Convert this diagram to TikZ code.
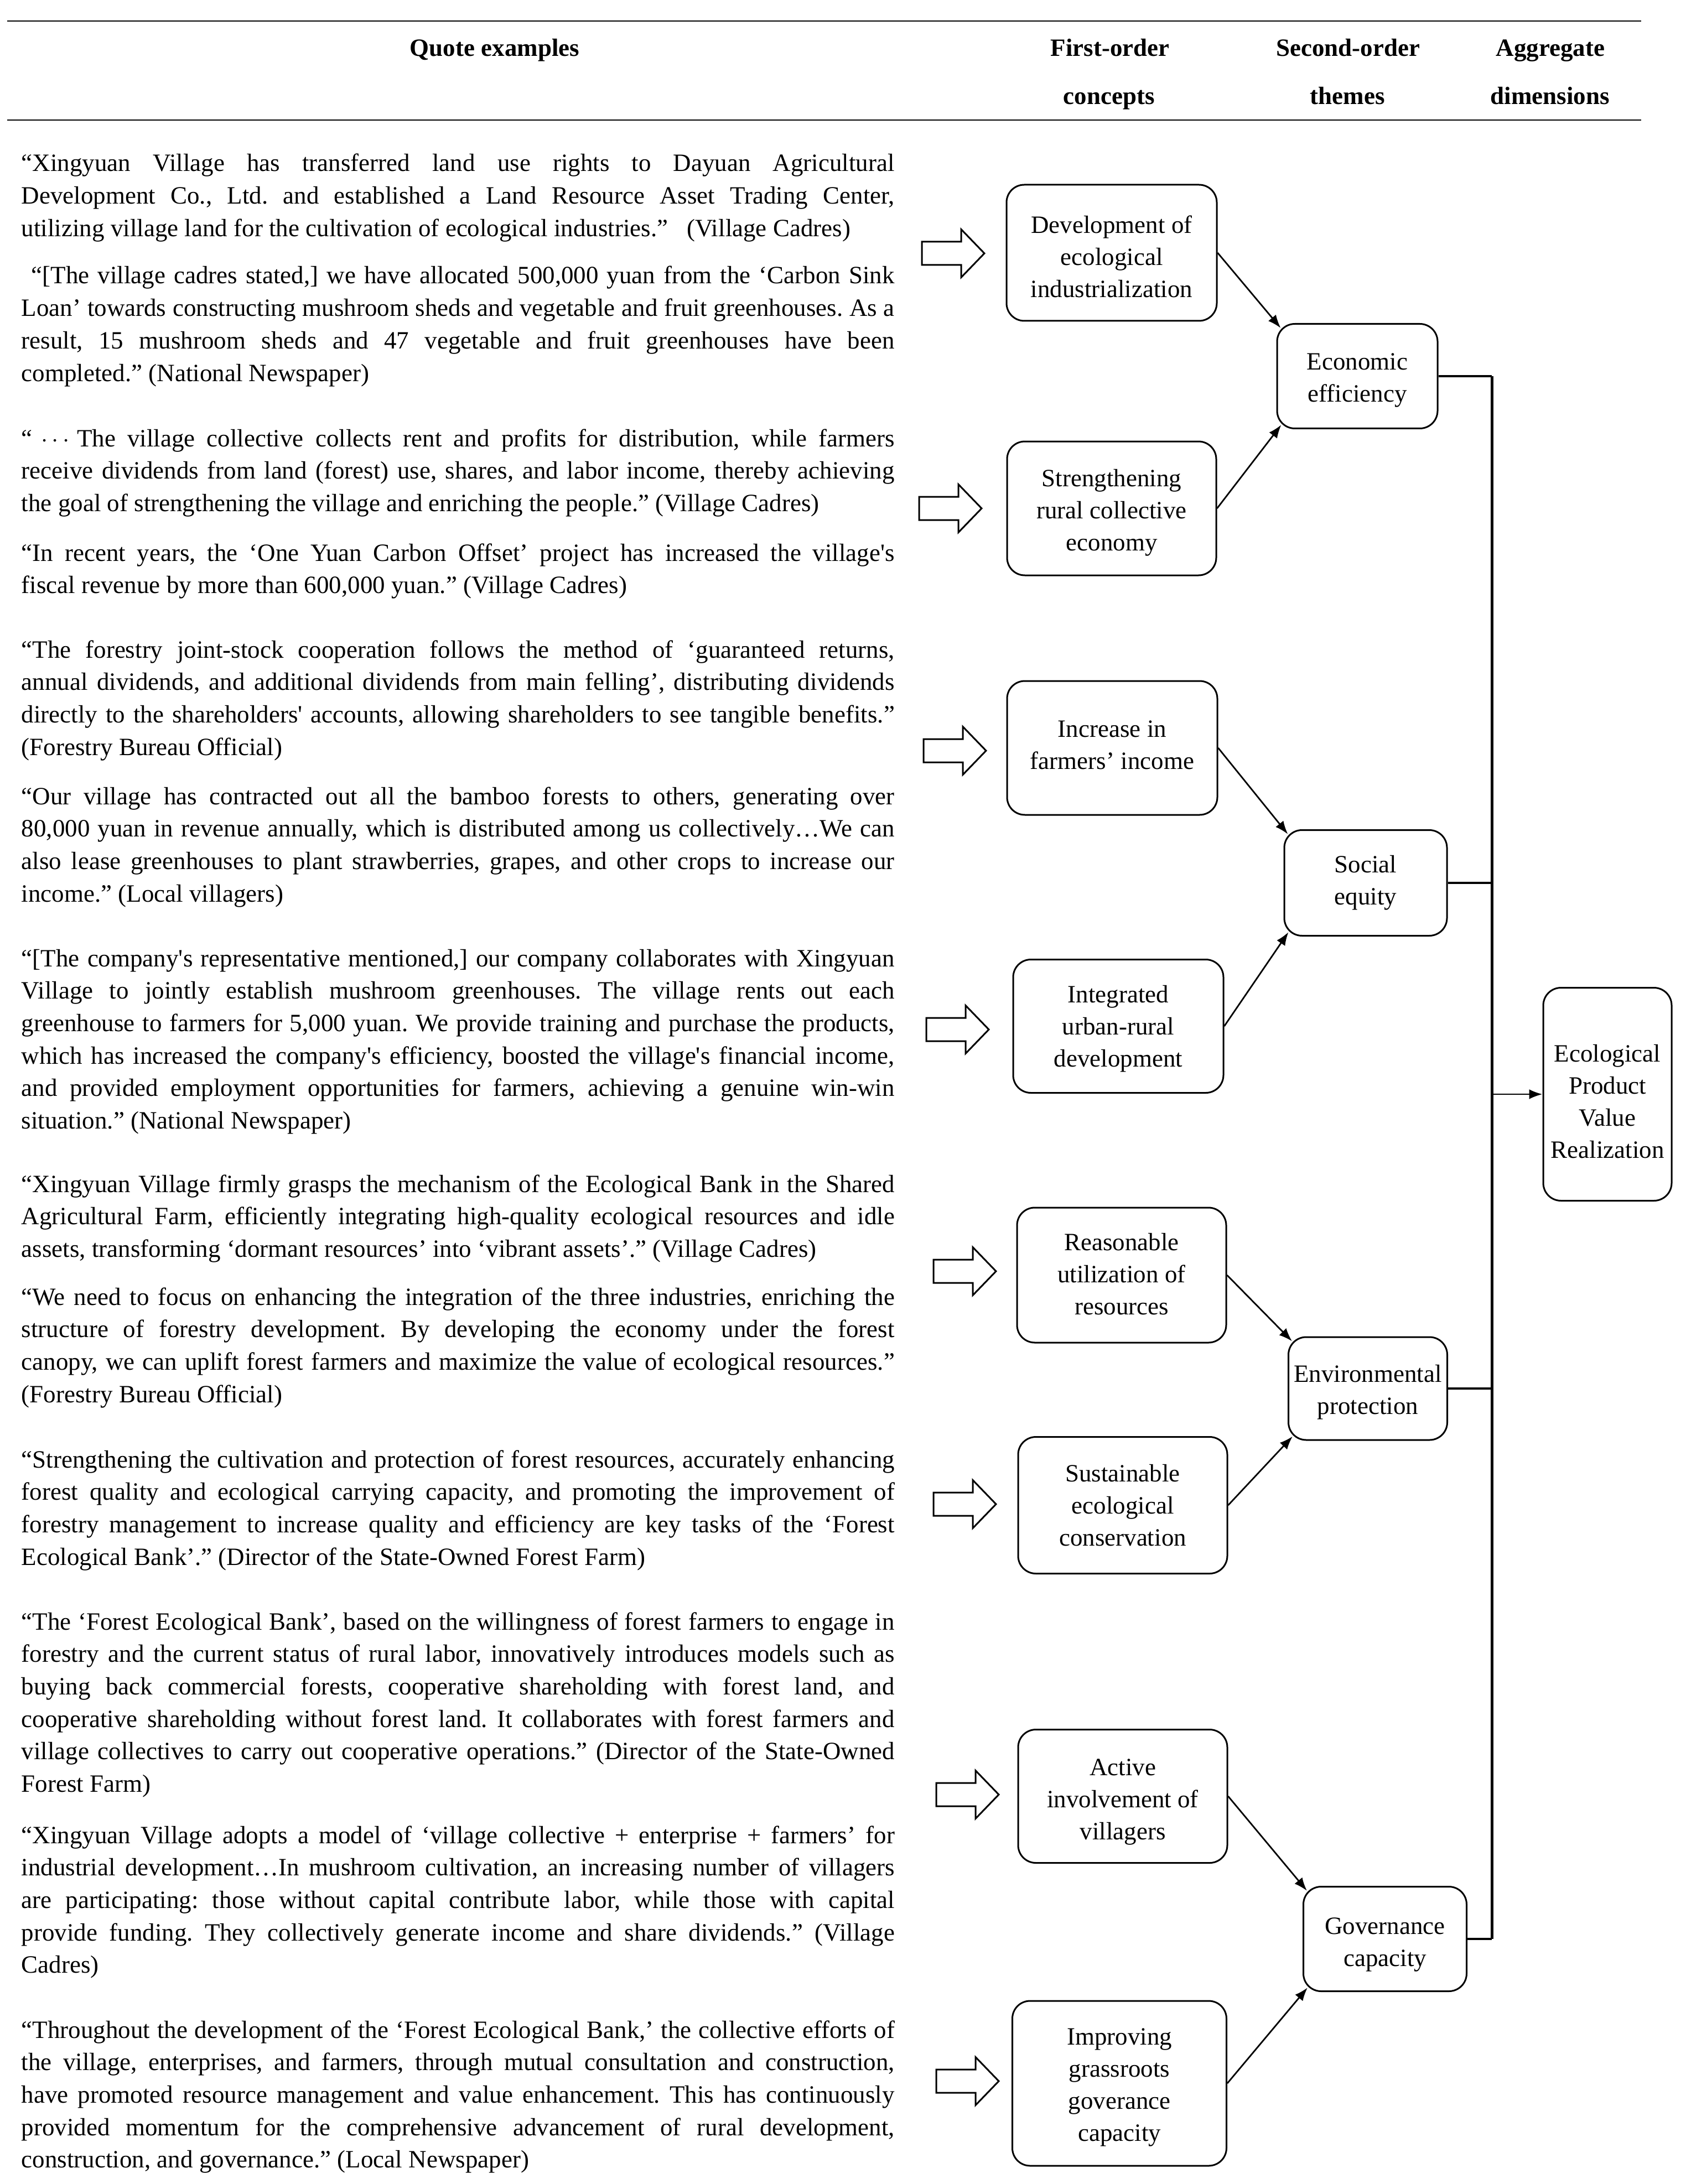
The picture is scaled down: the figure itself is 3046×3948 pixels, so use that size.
\documentclass[tikz,border=0pt]{standalone}
\usepackage{fontspec}
\newfontfamily\qfont{Liberation Serif}
\usetikzlibrary{arrows.meta,calc}
\newcommand\QL[1]{\hbox to 394.5pt{\spaceskip=0.25em plus 0.6em minus 0.1em\relax #1}}
\newcommand\QE[1]{\hbox{#1}}
\newcommand\cbx[7]{%
  \node[cbox={#4}{#5}] (#1) at (#2,#3) {};
  \node[ctext] (#1t) at ($(#1.center)+(0,#6)$) {#7};}
\frenchspacing
\begin{document}
\begin{tikzpicture}[x=0.25pt,y=-0.25pt,
  quote/.style={anchor=base west, inner sep=0pt, font=\qfont\fontsize{11.25}{14.675}\selectfont},
  hdr/.style={anchor=base, inner sep=0pt, font=\qfont\bfseries\fontsize{11.25}{14}\selectfont},
  cbox/.style 2 args={draw, line width=0.75pt, rounded corners=8pt, inner sep=0pt, minimum width=#1*0.25pt, minimum height=#2*0.25pt},
  ctext/.style={align=center, inner sep=0pt, font=\qfont\fontsize{11.25}{14.5}\selectfont},
  conn/.style={line width=0.7pt, -{Latex[length=6pt,width=4.5pt]}},
  hline/.style={line width=0.85pt},
  busline/.style={line width=1.25pt},
  rule/.style={line width=0.7pt},
  blockarr/.pic={\draw[line width=0.75pt, line join=miter] (0,-21) -- (71,-21) -- (71,-43.5) -- (113,0) -- (71,43.5) -- (71,21) -- (0,21) -- cycle;}
]
\useasboundingbox (0,0) rectangle (3046,3948);

% header
\draw[rule] (13,38) -- (2966,38);
\draw[rule] (13,217) -- (2966,217);
\node[hdr] (hq) at (894,102) {Quote examples};
\node[hdr] (h1a) at (2006,102) {First-order};
\node[hdr] (h1b) at (2004,189) {concepts};
\node[hdr] (h2a) at (2436,102) {Second-order};
\node[hdr] (h2b) at (2435,189) {themes};
\node[hdr] (h3a) at (2802,102) {Aggregate};
\node[hdr] (h3b) at (2801,189) {dimensions};

% quotes
\node[quote] (q1) at (38,310) {\vtop{%
\QL{“Xingyuan Village has transferred land use rights to Dayuan Agricultural}
\QL{Development Co., Ltd. and established a Land Resource Asset Trading Center,}
\QE{utilizing village land for the cultivation of ecological industries.”\hspace{0.5em} (Village Cadres)}}};

\node[quote] (q2) at (38,513) {\vtop{%
\QL{\hspace*{0.4em}“[The village cadres stated,] we have allocated 500,000 yuan from the ‘Carbon Sink}
\QL{Loan’ towards constructing mushroom sheds and vegetable and fruit greenhouses. As a}
\QL{result, 15 mushroom sheds and 47 vegetable and fruit greenhouses have been}
\QE{completed.” (National Newspaper)}}};

\node[quote] (q3) at (38,807) {\vtop{%
\QL{“\hspace{0.35em}$\cdots$\hspace{0.3em}The village collective collects rent and profits for distribution, while farmers}
\QL{receive dividends from land (forest) use, shares, and labor income, thereby achieving}
\QE{the goal of strengthening the village and enriching the people.” (Village Cadres)}}};

\node[quote] (q4) at (38,1014) {\vtop{%
\QL{“In recent years, the ‘One Yuan Carbon Offset’ project has increased the village's}
\QE{fiscal revenue by more than 600,000 yuan.” (Village Cadres)}}};

\node[quote] (q5) at (38,1189) {\vtop{%
\QL{“The forestry joint-stock cooperation follows the method of ‘guaranteed returns,}
\QL{annual dividends, and additional dividends from main felling’, distributing dividends}
\QL{directly to the shareholders' accounts, allowing shareholders to see tangible benefits.”}
\QE{(Forestry Bureau Official)}}};

\node[quote] (q6) at (38,1454) {\vtop{%
\QL{“Our village has contracted out all the bamboo forests to others, generating over}
\QL{80,000 yuan in revenue annually, which is distributed among us collectively…We can}
\QL{also lease greenhouses to plant strawberries, grapes, and other crops to increase our}
\QE{income.” (Local villagers)}}};

\node[quote] (q7) at (38,1747) {\vtop{%
\QL{“[The company's representative mentioned,] our company collaborates with Xingyuan}
\QL{Village to jointly establish mushroom greenhouses. The village rents out each}
\QL{greenhouse to farmers for 5,000 yuan. We provide training and purchase the products,}
\QL{which has increased the company's efficiency, boosted the village's financial income,}
\QL{and provided employment opportunities for farmers, achieving a genuine win-win}
\QE{situation.” (National Newspaper)}}};

\node[quote] (q8) at (38,2155) {\vtop{%
\QL{“Xingyuan Village firmly grasps the mechanism of the Ecological Bank in the Shared}
\QL{Agricultural Farm, efficiently integrating high-quality ecological resources and idle}
\QE{assets, transforming ‘dormant resources’ into ‘vibrant assets’.” (Village Cadres)}}};

\node[quote] (q9) at (38,2359) {\vtop{%
\QL{“We need to focus on enhancing the integration of the three industries, enriching the}
\QL{structure of forestry development. By developing the economy under the forest}
\QL{canopy, we can uplift forest farmers and maximize the value of ecological resources.”}
\QE{(Forestry Bureau Official)}}};

\node[quote] (q10) at (38,2653) {\vtop{%
\QL{“Strengthening the cultivation and protection of forest resources, accurately enhancing}
\QL{forest quality and ecological carrying capacity, and promoting the improvement of}
\QL{forestry management to increase quality and efficiency are key tasks of the ‘Forest}
\QE{Ecological Bank’.” (Director of the State-Owned Forest Farm)}}};

\node[quote] (q11) at (38,2946) {\vtop{%
\QL{“The ‘Forest Ecological Bank’, based on the willingness of forest farmers to engage in}
\QL{forestry and the current status of rural labor, innovatively introduces models such as}
\QL{buying back commercial forests, cooperative shareholding with forest land, and}
\QL{cooperative shareholding without forest land. It collaborates with forest farmers and}
\QL{village collectives to carry out cooperative operations.” (Director of the State-Owned}
\QE{Forest Farm)}}};

\node[quote] (q12) at (38,3332) {\vtop{%
\QL{“Xingyuan Village adopts a model of ‘village collective + enterprise + farmers’ for}
\QL{industrial development…In mushroom cultivation, an increasing number of villagers}
\QL{are participating: those without capital contribute labor, while those with capital}
\QL{provide funding. They collectively generate income and share dividends.” (Village}
\QE{Cadres)}}};

\node[quote] (q13) at (38,3684) {\vtop{%
\QL{“Throughout the development of the ‘Forest Ecological Bank,’ the collective efforts of}
\QL{the village, enterprises, and farmers, through mutual consultation and construction,}
\QL{have promoted resource management and value enhancement. This has continuously}
\QL{provided momentum for the comprehensive advancement of rural development,}
\QE{construction, and governance.” (Local Newspaper)}}};

% block arrows
\pic (a1) at (1666,458) {blockarr};
\pic (a2) at (1661,919) {blockarr};
\pic (a3) at (1669,1357) {blockarr};
\pic (a4) at (1674,1861) {blockarr};
\pic (a5) at (1687,2298) {blockarr};
\pic (a6) at (1687,2719) {blockarr};
\pic (a7) at (1692,3244) {blockarr};
\pic (a8) at (1692,3762) {blockarr};

% first-order concepts
\cbx{B1}{2009}{457}{380}{246}{7}{Development of\\ecological\\industrialization}
\cbx{B2}{2009}{919}{378}{242}{8}{Strengthening\\rural collective\\economy}
\cbx{B3}{2010}{1352}{380}{242}{-5}{Increase in\\farmers’ income}
\cbx{B4}{2021}{1855}{380}{241}{5}{Integrated\\urban-rural\\development}
\cbx{B5}{2027}{2305}{378}{244}{-2}{Reasonable\\utilization of\\resources}
\cbx{B6}{2029}{2721}{378}{247}{0}{Sustainable\\ecological\\conservation}
\cbx{B7}{2029}{3247}{378}{241}{10}{Active\\involvement of\\villagers}
\cbx{B8}{2023}{3766}{387}{298}{7}{Improving\\grassroots\\goverance\\capacity}

% second-order themes
\cbx{S1}{2453}{680}{290}{189}{7}{Economic\\efficiency}
\cbx{S2}{2468}{1596}{294}{191}{0}{Social\\equity}
\cbx{S3}{2472}{2510}{287}{186}{7}{Environmental\\protection}
\cbx{S4}{2503}{3505}{295}{189}{10}{Governance\\capacity}

% aggregate dimension
\cbx{AG}{2905}{1978}{232}{385}{13}{Ecological\\Product\\Value\\Realization}

% connectors
\draw[conn] (B1.east) -- ($(S1.north west)+(8,9)$);
\draw[conn] (B2.east) -- ($(S1.south west)+(9,-8)$);
\draw[conn] (B3.east) -- ($(S2.north west)+(8,9)$);
\draw[conn] (B4.east) -- ($(S2.south west)+(9,-8)$);
\draw[conn] (B5.east) -- ($(S3.north west)+(8,9)$);
\draw[conn] (B6.east) -- ($(S3.south west)+(9,-8)$);
\draw[conn] (B7.east) -- ($(S4.north west)+(8,9)$);
\draw[conn] (B8.east) -- ($(S4.south west)+(9,-8)$);

\coordinate (bus) at (2696,0);
\draw[hline] (S1.east) -- (S1.east -| bus);
\draw[hline] (S2.east) -- (S2.east -| bus);
\draw[hline] (S3.east) -- (S3.east -| bus);
\draw[hline] (S4.east) -- (S4.east -| bus);
\draw[busline] (S1.east -| bus) -- (S4.east -| bus);
\draw[conn] (AG.west -| bus) -- (AG.west);
\end{tikzpicture}
\end{document}
